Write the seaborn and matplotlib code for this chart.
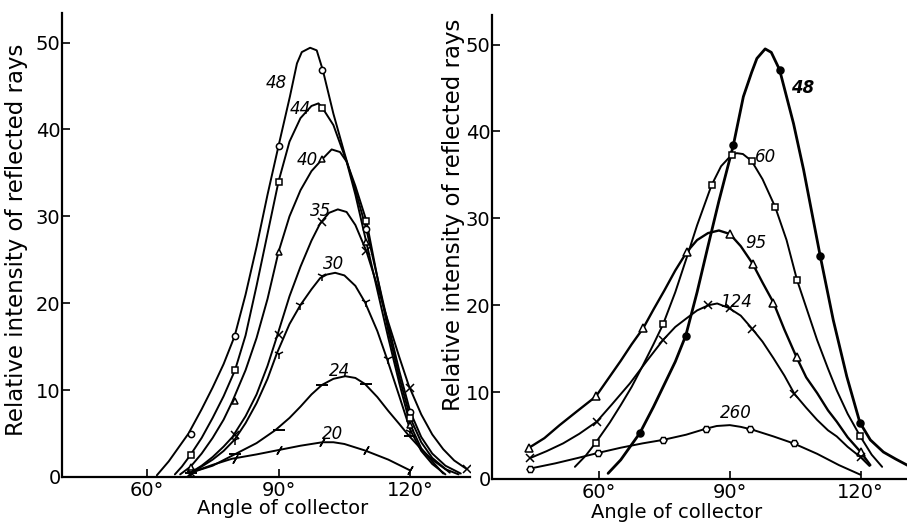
import numpy as np
import pandas as pd
import matplotlib
matplotlib.use("Agg")
import matplotlib.pyplot as plt
import seaborn as sns

# ---------------- data: left panel (bombarding potential, volts) ----------------
L48_a = [62.3, 65, 69.5, 72.5, 75, 77.5, 80, 82.5, 85, 87.5, 90, 92.6, 94.2, 95.3, 97.2, 98.7, 100.1, 102.5, 105, 107.5, 110, 112.5, 115, 117.5, 120, 122.5, 125, 128, 131.5]
L48_v = [0.2, 1.8, 5.0, 7.8, 10.3, 13.0, 16.2, 21.0, 26.5, 32.5, 38.1, 43.8, 47.6, 48.9, 49.4, 49.1, 46.8, 41.8, 37.3, 33.0, 28.5, 23.0, 17.5, 12.2, 7.5, 4.6, 2.7, 1.3, 0.4]
L44_a = [66.4, 68, 69.9, 72.5, 75, 77.5, 80.1, 82.5, 85, 87.5, 90, 92.5, 95, 97.5, 99.1, 100.1, 102.5, 105, 107.5, 110, 112.5, 115, 117.5, 120, 122.5, 125, 129]
L44_v = [0.3, 1.2, 2.5, 4.5, 6.8, 9.3, 12.3, 16.3, 22.0, 28.0, 34.0, 38.6, 41.3, 42.7, 43.0, 42.4, 40.5, 37.0, 33.5, 29.5, 23.0, 16.8, 11.5, 6.8, 4.0, 2.2, 0.5]
L40_a = [67.6, 70, 72.5, 75, 77.5, 79.5, 82.5, 85, 87.5, 90, 92.5, 95, 97.5, 100, 102.1, 104, 105.5, 107.5, 110, 112.5, 115, 117.5, 120, 122.5, 125, 127.5]
L40_v = [0.3, 1.2, 2.7, 4.5, 6.6, 8.7, 12.3, 16.0, 20.5, 25.9, 30.0, 33.0, 35.2, 36.6, 37.7, 37.4, 36.3, 32.5, 27.0, 21.5, 16.0, 10.8, 6.0, 3.3, 1.8, 0.4]
L35_a = [70, 72.5, 75, 77.5, 79.5, 82.5, 85, 87.5, 89.6, 92.5, 95, 97.5, 99.5, 101.5, 103.5, 105.5, 107.5, 110, 112.5, 115, 117.5, 119.6, 122.5, 125, 127.5, 130, 132.9]
L35_v = [0.5, 1.3, 2.3, 3.5, 4.6, 7.0, 9.5, 12.8, 16.1, 20.8, 24.2, 27.2, 29.2, 30.4, 30.8, 30.5, 29.0, 26.0, 22.0, 17.8, 13.8, 10.6, 7.2, 4.9, 3.2, 1.9, 0.9]
L30_a = [70, 72.5, 75, 77.5, 80, 82.5, 85, 87.5, 89.6, 92.5, 95, 97.5, 99.5, 101, 102.9, 105, 107.5, 109.7, 112.5, 114.7, 117.5, 120, 122.5, 125, 128]
L30_v = [0.5, 1.2, 2.0, 3.0, 4.3, 6.2, 8.5, 11.3, 14.2, 17.6, 19.8, 21.6, 22.9, 23.3, 23.5, 23.2, 22.0, 20.1, 16.8, 13.6, 9.3, 5.4, 3.0, 1.5, 0.3]
L24_a = [70, 75, 80, 85, 89.3, 92.5, 95, 97.5, 99.9, 102.5, 105.2, 107.5, 109.7, 112.5, 115, 117.5, 119.6, 122.5, 125, 128, 131]
L24_v = [0.5, 1.3, 2.6, 3.9, 5.4, 6.8, 8.1, 9.5, 10.6, 11.3, 11.6, 11.4, 10.7, 9.2, 7.6, 6.1, 4.8, 3.2, 2.0, 0.9, 0.3]
L20_a = [70, 75, 79.4, 85, 90, 95, 100, 102.5, 105, 109.7, 115, 120]
L20_v = [0.5, 1.4, 2.1, 2.6, 3.1, 3.6, 4.0, 4.0, 3.8, 3.05, 2.0, 0.75]

# measured points (markers), left panel
M48_a = [70, 80, 90, 100, 110, 120]
M48_v = [5.0, 16.2, 38.1, 46.8, 28.5, 7.5]
M44_a = [70, 80, 90, 100, 110, 120]
M44_v = [2.5, 12.3, 34.0, 42.5, 29.5, 6.8]
M40_a = [70, 80, 90, 100, 110, 120]
M40_v = [1.2, 8.8, 25.9, 36.6, 27.0, 6.0]
M35_a = [70, 80, 90, 100, 110, 120, 132.9]
M35_v = [0.5, 4.8, 16.3, 29.3, 26.0, 10.2, 0.9]
M30_a = [70, 80, 90, 95, 100, 110, 115, 120]
M30_v = [0.5, 4.3, 14.2, 19.8, 23.1, 20.1, 13.6, 5.2]
M24_a = [70, 80, 90, 100, 110, 120]
M24_v = [0.5, 2.6, 5.4, 10.6, 10.7, 4.7]
M20_a = [70, 80, 90, 100, 110, 120]
M20_v = [0.5, 2.1, 3.1, 4.0, 3.05, 0.75]

# ---------------- data: right panel ----------------
R48_a = [62.1, 65, 69.4, 72.5, 75, 77.5, 79.9, 82.5, 85, 87.5, 90.8, 93.1, 95, 96.2, 98.1, 99.5, 101.4, 104.6, 106.9, 110.7, 113.7, 116.8, 119.8, 122.2, 125.2, 128, 131]
R48_v = [0.65, 2.2, 5.3, 8.3, 10.9, 13.5, 16.5, 21.5, 26.8, 32.0, 38.4, 44.0, 46.8, 48.4, 49.5, 49.1, 47.1, 40.9, 35.6, 25.7, 18.3, 11.8, 6.5, 4.5, 3.1, 2.3, 1.5]
R60_a = [54.5, 57, 59.3, 62.5, 65, 67.5, 70, 72.5, 74.7, 77.5, 80, 82.5, 85.8, 88, 90.4, 91.6, 93, 95, 97.5, 100.4, 103, 105.4, 108, 110, 112.5, 114.5, 117, 119.9, 122.5, 124.9]
R60_v = [1.4, 2.7, 4.2, 6.5, 8.5, 10.6, 13.0, 15.5, 17.8, 21.5, 25.3, 29.2, 33.8, 36.0, 37.3, 37.5, 37.4, 36.6, 34.5, 31.3, 27.5, 22.9, 19.0, 16.0, 12.7, 10.2, 7.5, 4.9, 2.8, 1.4]
R95_a = [44, 47.5, 51, 55, 59.3, 62.5, 65, 67.5, 70.2, 72.5, 75, 77.5, 80.1, 82.5, 85, 87.5, 90, 92.5, 95.2, 97.5, 100, 102.5, 105.3, 107.5, 110, 112.5, 114.5, 117, 120, 122.2]
R95_v = [3.6, 4.7, 6.2, 7.8, 9.5, 11.8, 13.6, 15.5, 17.4, 19.5, 21.7, 24.0, 26.1, 27.5, 28.3, 28.6, 28.2, 26.8, 24.8, 22.6, 20.3, 17.2, 14.0, 11.7, 9.9, 7.9, 6.6, 4.8, 3.1, 1.6]
R124_a = [44.2, 48, 51.8, 55.5, 59.5, 63, 67.1, 71, 74.7, 77.5, 80.1, 82.5, 85.1, 87.1, 89.7, 92.5, 95.1, 97.5, 100, 102.5, 104.8, 107.5, 110, 112.5, 114.5, 117, 120, 122]
R124_v = [2.4, 3.2, 4.1, 5.2, 6.6, 8.6, 11.0, 13.6, 16.0, 17.5, 18.5, 19.4, 20.0, 20.2, 19.7, 18.8, 17.3, 15.8, 13.9, 11.9, 9.8, 8.2, 6.8, 5.6, 4.9, 3.7, 2.5, 1.5]
R260_a = [44.2, 50, 55, 59.8, 65, 70, 74.7, 80, 84.6, 87, 90, 92.5, 95, 100, 104.6, 110, 115, 119.9]
R260_v = [1.2, 1.8, 2.4, 3.0, 3.6, 4.1, 4.5, 5.1, 5.8, 6.1, 6.2, 6.0, 5.7, 4.9, 4.1, 2.9, 1.6, 0.5]

N48_a = [69.4, 79.9, 90.8, 101.4, 110.7, 119.8]
N48_v = [5.3, 16.5, 38.4, 47.1, 25.7, 6.5]
N60_a = [59.3, 74.7, 85.8, 90.4, 95, 100.4, 105.4, 119.9]
N60_v = [4.2, 17.8, 33.8, 37.3, 36.6, 31.3, 22.9, 4.9]
N95_a = [44, 59.3, 70.2, 80.1, 90, 95.2, 100, 105.3, 120]
N95_v = [3.6, 9.5, 17.4, 26.1, 28.2, 24.8, 20.3, 14.0, 3.1]
N124_a = [44.2, 59.5, 74.7, 85.1, 90, 95.1, 104.8, 120]
N124_v = [2.4, 6.6, 16.0, 20.0, 19.7, 17.3, 9.8, 2.5]
N260_a = [44.2, 59.8, 74.7, 84.6, 94.7, 104.6]
N260_v = [1.2, 3.0, 4.5, 5.8, 5.7, 4.1]

# curve labels
left_labels = ["48", "44", "40", "35", "30", "24", "20"]
left_lab_a = [89.6, 94.9, 96.6, 99.5, 102.6, 104.0, 102.4]
left_lab_v = [45.3, 42.4, 36.5, 30.6, 24.5, 12.2, 4.9]
right_labels = ["48", "60", "95", "124", "260"]
right_lab_a = [106.6, 98.3, 96.0, 91.5, 91.3]
right_lab_v = [45.0, 37.1, 27.2, 20.4, 7.6]

xticks = [60, 90, 120]
xtick_labels = ["60°", "90°", "120°"]
yticks = [0, 10, 20, 30, 40, 50]

# ---------------- figure ----------------
sns.set_theme(style="ticks")
plt.rcParams["font.family"] = ["DejaVu Sans"]

fig = plt.figure(figsize=(9.07, 5.24), dpi=100)
W, H = 907, 524
axL = fig.add_axes([62 / W, 1 - 477 / H, (470 - 62) / W, (477 - 13) / H])
axR = fig.add_axes([492 / W, 1 - 479 / H, (907 - 492) / W, (479 - 15) / H])
axL.patch.set_alpha(0)
axR.patch.set_alpha(0)

def curve(ax, a, v, lw=1.4):
    df = pd.DataFrame({"a": a, "v": v})
    sns.lineplot(data=df, x="a", y="v", ax=ax, color="black", lw=lw,
                 sort=False, estimator=None, clip_on=True)

def marks(ax, a, v, marker, size=5, filled=False, mew=1.1):
    ax.plot(a, v, ls="none", marker=marker, ms=size, mew=mew,
            mec="black", mfc=("black" if filled else "white"), zorder=5)

# left panel
curve(axL, L48_a, L48_v)
curve(axL, L44_a, L44_v)
curve(axL, L40_a, L40_v)
curve(axL, L35_a, L35_v)
curve(axL, L30_a, L30_v)
curve(axL, L24_a, L24_v)
curve(axL, L20_a, L20_v)
marks(axL, M48_a, M48_v, "o", 4.5)
marks(axL, M44_a, M44_v, "s", 4.5)
marks(axL, M40_a, M40_v, "^", 5)
marks(axL, M35_a, M35_v, "x", 6)
marks(axL, M30_a, M30_v, "1", 7)
marks(axL, M24_a, M24_v, "_", 8, mew=1.4)
marks(axL, M20_a, M20_v, (2, 2, -30), 7)

# right panel
curve(axR, R48_a, R48_v, lw=2.0)
curve(axR, R60_a, R60_v)
curve(axR, R95_a, R95_v, lw=1.7)
curve(axR, R124_a, R124_v)
curve(axR, R260_a, R260_v)
marks(axR, N48_a, N48_v, "o", 5, filled=True)
marks(axR, N60_a, N60_v, "s", 4.5)
marks(axR, N95_a, N95_v, "^", 5.5)
marks(axR, N124_a, N124_v, "x", 6)
marks(axR, N260_a, N260_v, "H", 5)

for lab, a, v in zip(left_labels, left_lab_a, left_lab_v):
    axL.text(a, v, lab, fontsize=12, style="italic", ha="center", va="center", color="black")
for lab, a, v in zip(right_labels, right_lab_a, right_lab_v):
    axR.text(a, v, lab, fontsize=12, style="italic", weight="bold" if lab == "48" else "normal",
             ha="center", va="center", color="black")

for ax, xl in ((axL, (40.7, 133.6)), (axR, (35.5, 130.6))):
    ax.set_xlim(*xl)
    ax.set_ylim(0, 53.4)
    ax.set_xticks(xticks)
    ax.set_xticklabels(xtick_labels)
    ax.set_yticks(yticks)
    ax.tick_params(axis="both", direction="in", length=6, width=1.2, color="black",
                   labelsize=14, labelcolor="black")
    ax.tick_params(axis="y", pad=1)
    ax.tick_params(axis="x", pad=3)
    sns.despine(ax=ax)
    for s in ("left", "bottom"):
        ax.spines[s].set_color("black")
        ax.spines[s].set_linewidth(1.6)
    ax.set_xlabel("Angle of collector", fontsize=14, color="black")
    ax.set_ylabel("Relative intensity of reflected rays", fontsize=16.5, color="black")
    ax.grid(False)

axL.xaxis.set_label_coords((283 - 62) / 408, (477 - 499) / 464)
axR.xaxis.set_label_coords((677 - 492) / 415, (479 - 503) / 464)
axL.yaxis.set_label_coords((28 - 62) / 408, (477 - 240) / 464)
axR.yaxis.set_label_coords((465 - 492) / 415, (479 - 215) / 464)

fig.savefig("out.png", dpi=100, facecolor="white")
